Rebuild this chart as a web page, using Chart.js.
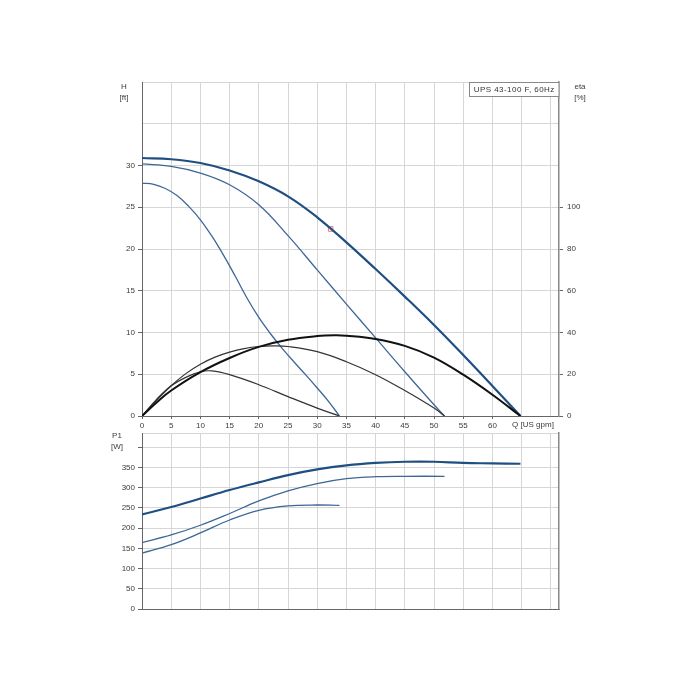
<!DOCTYPE html>
<html><head><meta charset="utf-8">
<script src="https://cdn.jsdelivr.net/npm/chart.js@4.4.1/dist/chart.umd.min.js"></script>
<style>html,body{margin:0;padding:0;background:#fff;} canvas{position:absolute;left:0;top:0;}</style>
</head><body>
<canvas id="c1" width="700" height="700"></canvas>
<canvas id="c2" width="700" height="700"></canvas>
<script>
// ---- Head curves (H [ft] vs Q [US gpm]) ----
const qH1 = [0,5,10,15,20,25,30,35,40,45,50,55,60,64.8];
const hH1 = [30.9,30.75,30.3,29.4,28.1,26.3,23.8,20.8,17.6,14.3,10.9,7.3,3.6,0];
const qH2 = [0,5,10,15,20,25,30,35,40,45,50,51.8];
const hH2 = [30.2,29.9,29.1,27.7,25.3,21.6,17.5,13.4,9.35,5.3,1.35,0];
const qH3 = [0,2,4,6,8,10,12,14,16,18,20,22,24,26,28,30,32,33.8];
const hH3 = [27.9,27.75,27.25,26.4,25.1,23.5,21.5,19.2,16.7,14.1,11.8,9.85,8.1,6.5,4.95,3.35,1.7,0];
// ---- Efficiency curves (eta [%]) ----
const qE1 = [0,2.5,5,10,15,20,25,30,33,35,40,45,50,55,60,64.8];
const eE1 = [0,6.5,12.2,21,27.8,33.1,36.5,38.3,38.7,38.5,36.9,33.6,28.0,19.8,10.2,0];
const qE2 = [0,2.5,5,7.5,10,12.5,15,17.5,20,22.5,25,30,35,40,45,50,51.8];
const eE2 = [0,7.5,14.5,20.3,24.8,28.2,30.6,32.3,33.3,33.6,33.3,30.8,26.0,19.8,12.2,3.8,0];
const qE3 = [0,2.5,5,7.5,10,12,15,20,25,30,33.8];
const eE3 = [0,8,14.5,18.5,21.2,21.6,19.8,15,9.3,3.8,0];
// ---- Power curves (P1 [W]) ----
const qP1 = [0,5,10,15,20,25,30,35,40,45,50,55,60,64.8];
const pP1 = [234,252,273,294,313,331,345,355,361,364,364,361,360,359];
const qP2 = [0,5,10,15,20,25,30,35,40,45,51.8];
const pP2 = [164,183,207,236,267,292,310,322,327,328,328];
const qP3 = [0,5,10,15,20,25,30,33.8];
const pP3 = [138,159,188,220,244,255,257,256];
// ---- Duty point ----
const dutyQ = [32.3];
const dutyH = [22.4];
// ---- Labels ----
const titleText = 'UPS 43-100 F, 60Hz';
const xLabel = 'Q [US gpm]';

const zip = (a,b) => a.map((v,i)=>({x:v,y:b[i]}));
const FONT = '"Liberation Sans", Arial, sans-serif';
const TXT = '#3a3a3a';
const GRID = '#d6d6d6';
const AX = '#666';
const BLUE = '#1f4f82';
const BLUE2 = '#3d6796';

function line(q, v, color, w, axis) {
  return {type:'line', data: zip(q,v), borderColor: color, borderWidth: w, pointRadius: 0,
    fill:false, tension:0.4, yAxisID: axis};
}

const textPlugin1 = {
  id:'txt1',
  afterDraw(chart){
    const ctx = chart.ctx; const a = chart.chartArea;
    ctx.save();
    ctx.font = '8px ' + FONT; ctx.fillStyle = TXT; ctx.textAlign='center'; ctx.textBaseline='middle';
    ctx.fillText('H', 124, 87); ctx.fillText('[ft]', 124, 97.5);
    ctx.fillText('eta', 580, 87); ctx.fillText('[%]', 580, 98);
    ctx.fillText(xLabel, 533, 424.5);
    // title box
    const bx = 469.5, by = a.top + 0.5, bw = a.right - 469.5, bh = 14;
    ctx.fillStyle = '#fff'; ctx.fillRect(bx, by, bw, bh);
    ctx.strokeStyle = '#888'; ctx.lineWidth = 1; ctx.strokeRect(bx, by, bw, bh);
    ctx.fillStyle = '#333';
    const m = ctx.measureText(titleText).width;
    if ('letterSpacing' in ctx) ctx.letterSpacing = Math.max(0,(81 - m)/titleText.length) + 'px';
    ctx.fillText(titleText, bx + bw/2, by + bh/2 + 0.5);
    ctx.restore();
  }
};
const textPlugin2 = {
  id:'txt2',
  afterDraw(chart){
    const ctx = chart.ctx;
    ctx.save();
    ctx.font = '8px ' + FONT; ctx.fillStyle = TXT; ctx.textAlign='center'; ctx.textBaseline='middle';
    ctx.fillText('P1', 117, 436); ctx.fillText('[W]', 117, 446.5);
    ctx.restore();
  }
};

const tickFont = {family: FONT, size: 8};

new Chart(document.getElementById('c1'), {
  data: {datasets: [
    line(qE1, eE1, '#111', 2, 'y2'),
    line(qE2, eE2, '#333', 1.2, 'y2'),
    line(qE3, eE3, '#333', 1.2, 'y2'),
    line(qH1, hH1, BLUE, 2.2, 'y'),
    line(qH2, hH2, BLUE2, 1.3, 'y'),
    line(qH3, hH3, BLUE2, 1.3, 'y'),
    {type:'scatter', data: zip(dutyQ, dutyH), yAxisID:'y', pointStyle:'rect', pointRadius:3.2,
      borderColor:'#e87070', backgroundColor:'rgba(255,255,255,0.8)', borderWidth:1}
  ]},
  options: {
    responsive:false, animation:false, devicePixelRatio:1,
    layout:{padding:{top:82, bottom:260, left:0, right:0}},
    plugins:{legend:{display:false}, tooltip:{enabled:false}},
    scales:{
      x:{type:'linear', min:0, max:71.4,
        ticks:{stepSize:5, includeBounds:false, font:tickFont, color:TXT, padding:2, maxRotation:0,
          callback:(v)=> v<=60 ? v : ''},
        grid:{color:GRID, tickColor:(c)=> (c.tick && c.tick.value<=60) ? AX : 'rgba(0,0,0,0)', tickLength:3},
        border:{color:AX, width:1},
        afterFit:(s)=>{s.height=24;}},
      y:{type:'linear', position:'left', min:0, max:40,
        ticks:{stepSize:5, font:tickFont, color:TXT, padding:3, callback:(v)=> v<=30 ? v : ''},
        grid:{color:GRID, tickColor:(c)=> (c.tick && c.tick.value<=30) ? AX : 'rgba(0,0,0,0)', tickLength:4},
        border:{color:AX, width:1},
        afterFit:(s)=>{s.width=142;}},
      y2:{type:'linear', position:'right', min:0, max:160,
        ticks:{stepSize:20, font:tickFont, color:TXT, padding:4, callback:(v)=> v<=100 ? v : ''},
        grid:{drawOnChartArea:false, tickColor:(c)=> (c.tick && c.tick.value<=100) ? AX : 'rgba(0,0,0,0)', tickLength:4},
        border:{color:'#888', width:1.5},
        afterFit:(s)=>{s.width=141;}}
    }
  },
  plugins:[textPlugin1]
});

new Chart(document.getElementById('c2'), {
  data: {datasets: [
    line(qP1, pP1, BLUE, 2.2, 'y'),
    line(qP2, pP2, BLUE2, 1.3, 'y'),
    line(qP3, pP3, BLUE2, 1.3, 'y')
  ]},
  options: {
    responsive:false, animation:false, devicePixelRatio:1,
    layout:{padding:{top:433, bottom:91, left:0, right:0}},
    plugins:{legend:{display:false}, tooltip:{enabled:false}},
    scales:{
      x:{type:'linear', min:0, max:71.4,
        ticks:{display:false, stepSize:5, includeBounds:false},
        grid:{color:GRID, drawTicks:false},
        border:{color:AX, width:1},
        afterFit:(s)=>{s.height=0;}},
      y:{type:'linear', position:'left', min:0, max:435,
        ticks:{stepSize:50, font:tickFont, color:TXT, padding:3, callback:(v)=> (v<=350 && v%50===0) ? v : ''},
        grid:{color:GRID, tickColor:(c)=> (c.tick && c.tick.value<=400) ? AX : 'rgba(0,0,0,0)', tickLength:4},
        border:{color:AX, width:1},
        afterFit:(s)=>{s.width=142;}},
      y2:{type:'linear', position:'right', min:0, max:435,
        ticks:{display:false},
        grid:{drawOnChartArea:false, drawTicks:false},
        border:{color:'#888', width:1.5},
        afterFit:(s)=>{s.width=141;}}
    }
  },
  plugins:[textPlugin2]
});
</script>
</body></html>
